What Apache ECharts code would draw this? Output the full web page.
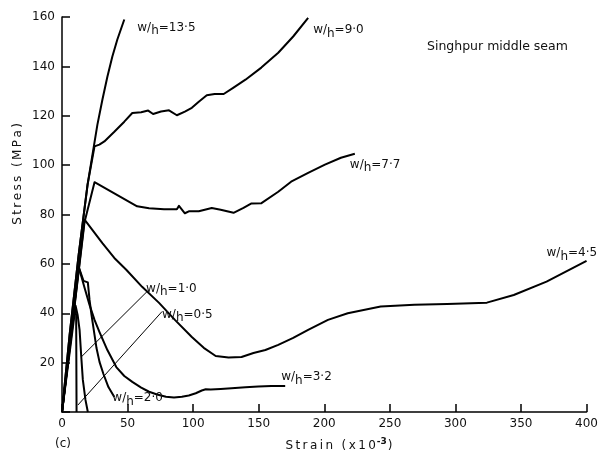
<!DOCTYPE html>
<html>
<head>
<meta charset="utf-8">
<script src="https://cdn.jsdelivr.net/npm/echarts@6/dist/echarts.min.js"></script>
<style>
  html, body { margin: 0; background: #fff; }
  #chart { width: 601px; height: 454px; }
</style>
</head>
<body>
<div id="chart"></div>
<script>
// strain (x10^-3), stress (MPa)
const wh135 = [[0,0],[5.8,31.2],[12.7,63.7],[19.5,92.1],[27.0,116.4],[30.8,126.5],[34.6,135.8],[38.4,144.0],[42.2,150.9],[47.5,159.0]];
const wh90 = [[0,0],[5.8,31.2],[12.7,63.7],[19.5,92.1],[24.8,107.6],[28.5,108.3],[32.3,109.6],[39.9,113.5],[47.5,117.6],[53.6,121.1],[60.4,121.4],[65.7,122.1],[69.5,120.7],[75.5,121.7],[81.6,122.2],[87.6,120.2],[93.7,121.7],[99.0,123.2],[104.3,125.7],[110.4,128.3],[116.4,128.8],[123.3,128.8],[130.8,131.4],[139.9,134.6],[152.0,139.5],[164.9,145.5],[176.3,152.1],[187.7,159.6]];
const wh77 = [[0,0],[17.2,77.0],[24.8,93.1],[57.3,83.3],[66.4,82.5],[77.8,82.1],[87.6,82.1],[89.2,83.5],[93.7,80.5],[96.7,81.3],[104.3,81.3],[114.2,82.6],[121.0,81.9],[130.8,80.7],[138.4,82.7],[144.5,84.5],[152.1,84.6],[164.9,89.2],[174.7,93.3],[187.7,96.9],[200.5,100.2],[212.7,103.0],[223.3,104.6]];
const wh45 = [[0,0],[17.2,77.9],[30.8,68.4],[39.9,62.4],[49.0,57.6],[61.1,50.7],[74.0,44.2],[86.1,37.3],[99.0,30.4],[108.1,26.0],[117.2,22.7],[127.0,22.1],[136.9,22.3],[146.0,23.9],[155.1,25.1],[164.9,27.2],[176.3,30.0],[187.7,33.3],[202.8,37.3],[217.9,40.0],[243.0,42.7],[268.7,43.4],[293.7,43.7],[324.0,44.3],[344.5,47.4],[369.5,52.8],[400,61.2]];
const wh32 = [[0,0],[12.7,58.8],[17.2,50.3],[21.0,43.4],[24.8,37.3],[28.6,32.4],[34.6,25.1],[41.4,18.2],[47.5,14.6],[53.6,12.2],[60.4,9.9],[66.4,8.2],[72.5,7.1],[79.3,6.2],[85.4,5.9],[91.4,6.2],[96.7,6.7],[102.0,7.6],[106.6,8.7],[109.6,9.2],[113.4,9.1],[121.0,9.3],[129.3,9.6],[139.9,10.0],[149.7,10.3],[159.6,10.5],[170.2,10.5]];
const wh20 = [[0,0],[12.7,58.8],[16.4,53.1],[19.7,52.5],[21.0,45.4],[22.5,39.3],[24.8,31.2],[26.3,25.9],[28.6,20.3],[31.6,15.4],[35.4,10.1],[39.9,6.1]];
const wh10 = [[0,0],[10.4,43.0],[11.9,39.3],[13.4,33.3],[14.7,22.3],[15.9,13.0],[17.9,4.9],[19.7,0]];
const wh05 = [[0,0],[9.6,41.8],[10.8,39.3],[11.1,0]];
// pointer lines from the two small curves to their labels
const leader10 = [[14.7,22.3],[64.9,48.8]];
const leader05 = [[12.1,2.8],[76.3,40.7]];

const ratios = ['13·5', '9·0', '7·7', '4·5', '3·2', '2·0', '1·0', '0·5'];

const FONT = 'DejaVu Sans';
const chart = echarts.init(document.getElementById('chart'), null, { renderer: 'canvas' });

function spaced(s) { return s.split('').join('\u2009'); }

function tag(ratio, offset) {
  return {
    symbol: 'circle',
    symbolSize: 0,
    silent: true,
    label: {
      show: true,
      position: 'right',
      distance: 0,
      offset: offset,
      formatter: '{t|w/}{h|h}{t|=' + ratio + '}',
      rich: {
        t: { fontFamily: FONT, fontSize: 12, color: '#111' },
        h: { fontFamily: FONT, fontSize: 12, color: '#111', padding: [7, 0, 0, 0] }
      }
    }
  };
}

function curve(data, width, ratio, offset) {
  const s = {
    type: 'line',
    data: data,
    showSymbol: false,
    symbol: 'none',
    animation: false,
    silent: true,
    lineStyle: { color: '#000', width: width, join: 'round' }
  };
  if (ratio) {
    const last = data[data.length - 1];
    s.markPoint = Object.assign(tag(ratio, offset), { data: [{ coord: last }] });
  }
  return s;
}

const option = {
  animation: false,
  grid: { left: 62, right: 11, top: 17, bottom: 42, containLabel: false },
  xAxis: {
    type: 'value',
    min: 0, max: 400, interval: 50,
    splitLine: { show: false },
    axisLine: { lineStyle: { color: '#000', width: 1.5 } },
    axisTick: { inside: true, length: 8, lineStyle: { color: '#000', width: 1.5 } },
    axisLabel: { color: '#111', fontFamily: FONT, fontSize: 12, margin: 6 }
  },
  yAxis: {
    type: 'value',
    min: 0, max: 160, interval: 20,
    splitLine: { show: false },
    axisLine: { show: true, lineStyle: { color: '#000', width: 1.5 } },
    axisTick: { show: true, inside: true, length: 8, lineStyle: { color: '#000', width: 1.5 } },
    axisLabel: {
      color: '#111', fontFamily: FONT, fontSize: 12, margin: 7,
      formatter: v => (v === 0 ? '' : String(v))
    }
  },
  series: [
    curve(wh135, 2, ratios[0], [13, 8]),
    curve(wh90, 2, ratios[1], [5, 12]),
    curve(wh77, 2, ratios[2], [-5, 11]),
    curve(wh45, 2, ratios[3], [-40, -8]),
    curve(wh32, 2, ratios[4], [-4, -9]),
    curve(wh20, 2, ratios[5], [-2, 1]),
    curve(wh10, 2),
    curve(wh05, 2),
    curve(leader10, 1, ratios[6], [-1, -3]),
    curve(leader05, 1, ratios[7], [0, 3])
  ],
  graphic: [
    {
      type: 'text', x: 427, y: 47,
      style: { text: 'Singhpur middle seam', font: '12.5px "DejaVu Sans"', fill: '#111', verticalAlign: 'middle' }
    },
    {
      type: 'text', x: 17.5, y: 174, rotation: Math.PI / 2,
      style: { text: spaced('Stress (MPa)'), font: '12px "DejaVu Sans"', fill: '#111', align: 'center', verticalAlign: 'middle' }
    },
    {
      type: 'text', x: 339, y: 446,
      style: {
        text: '{t|' + spaced('Strain (x10') + '}{s|-3}{t|)}',
        align: 'center', verticalAlign: 'middle',
        rich: {
          t: { font: '12px "DejaVu Sans"', fill: '#111' },
          s: { font: 'bold 9px "DejaVu Sans"', fill: '#111', padding: [0, 1, 8, 1] }
        }
      }
    },
    {
      type: 'text', x: 55, y: 444,
      style: { text: '(c)', font: '12px "DejaVu Sans"', fill: '#111', verticalAlign: 'middle' }
    }
  ]
};

chart.setOption(option);
</script>
</body>
</html>
